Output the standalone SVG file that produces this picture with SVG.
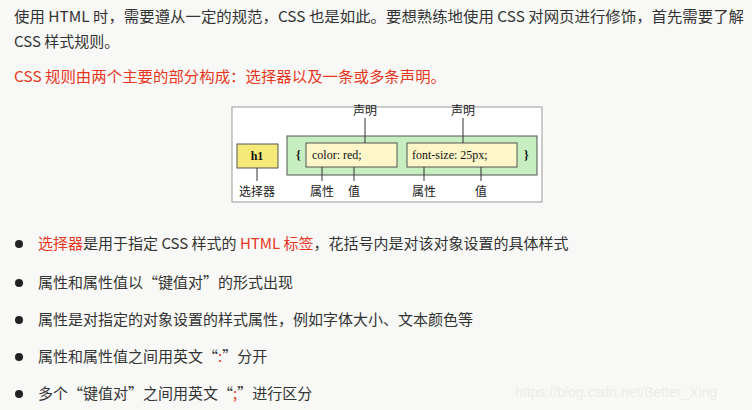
<svg xmlns="http://www.w3.org/2000/svg" width="752" height="410" viewBox="0 0 752 410">
<style>
.t{font-family:"Noto Sans CJK SC","Noto Sans",sans-serif;font-size:15px;fill:#333}
.r{fill:#e8361e}
.s{font-family:"Noto Sans CJK SC",sans-serif;font-size:12px;fill:#222}
.c{font-family:"Liberation Serif","Noto Sans CJK SC",serif;font-size:12px;fill:#111;font-weight:bold}
.ln{stroke:#333;stroke-width:1;fill:none}
</style>
<rect width="752" height="410" fill="#f8f9f6"/>
<text class="t" x="14" y="22" textLength="730" lengthAdjust="spacingAndGlyphs">使用 HTML 时，需要遵从一定的规范，CSS 也是如此。要想熟练地使用 CSS 对网页进行修饰，首先需要了解</text>
<text class="t" x="14" y="47">CSS 样式规则。</text>
<text class="t r" x="14" y="82" textLength="432" lengthAdjust="spacingAndGlyphs">CSS 规则由两个主要的部分构成：选择器以及一条或多条声明。</text>
<g id="frame"><rect x="232" y="107" width="310" height="95" fill="#fff" stroke="#999"/></g>
<g id="h1"><rect x="237" y="144" width="41" height="24" fill="#f5e97a" stroke="#555"/><text class="c" x="257" y="160" text-anchor="middle">h1</text></g>
<g id="block"><rect x="287" y="136" width="250" height="39" fill="#c6eec0" stroke="#555"/>
<text class="c" x="296" y="159">{</text><text class="c" x="524" y="159">}</text></g>
<g id="decl1"><rect x="306" y="143" width="91" height="24" fill="#fdf6c8" stroke="#555"/><text class="c" x="312" y="159" style="font-weight:normal">color: red;</text></g>
<g id="decl2"><rect x="407" y="143" width="110" height="24" fill="#fdf6c8" stroke="#555"/><text class="c" x="412" y="159" style="font-weight:normal">font-size: 25px;</text></g>
<g id="connectors">
<path class="ln" d="M365 118V143M463 118V143M257 168V181M322 167V181M354 167V181M424 167V181M481 167V181"/>
</g>
<g id="labels">
<text class="s" x="365" y="115" text-anchor="middle">声明</text>
<text class="s" x="463" y="115" text-anchor="middle">声明</text>
<text class="s" x="257" y="196" text-anchor="middle">选择器</text>
<text class="s" x="322" y="196" text-anchor="middle">属性</text>
<text class="s" x="354" y="196" text-anchor="middle">值</text>
<text class="s" x="424" y="196" text-anchor="middle">属性</text>
<text class="s" x="481" y="196" text-anchor="middle">值</text>
</g>
<g fill="#222"><circle cx="19" cy="244" r="4"/><circle cx="19" cy="283" r="4"/><circle cx="19" cy="320" r="4"/><circle cx="19" cy="357" r="4"/><circle cx="19" cy="394" r="4"/></g>
<text class="t" x="38" y="249"><tspan class="r">选择器</tspan>是用于指定 CSS 样式的 <tspan class="r">HTML 标签</tspan>，花括号内是对该对象设置的具体样式</text>
<text class="t" x="38" y="288">属性和属性值以“键值对”的形式出现</text>
<text class="t" x="38" y="325">属性是对指定的对象设置的样式属性，例如字体大小、文本颜色等</text>
<text class="t" x="38" y="362">属性和属性值之间用英文“<tspan class="r">:</tspan>”分开</text>
<text class="t" x="38" y="399">多个“键值对”之间用英文“<tspan class="r">;</tspan>”进行区分</text>
<text x="515" y="397" font-family="Liberation Sans,sans-serif" font-size="14" fill="#eaece8">https://blog.csdn.net/Better_Xing</text>
</svg>
